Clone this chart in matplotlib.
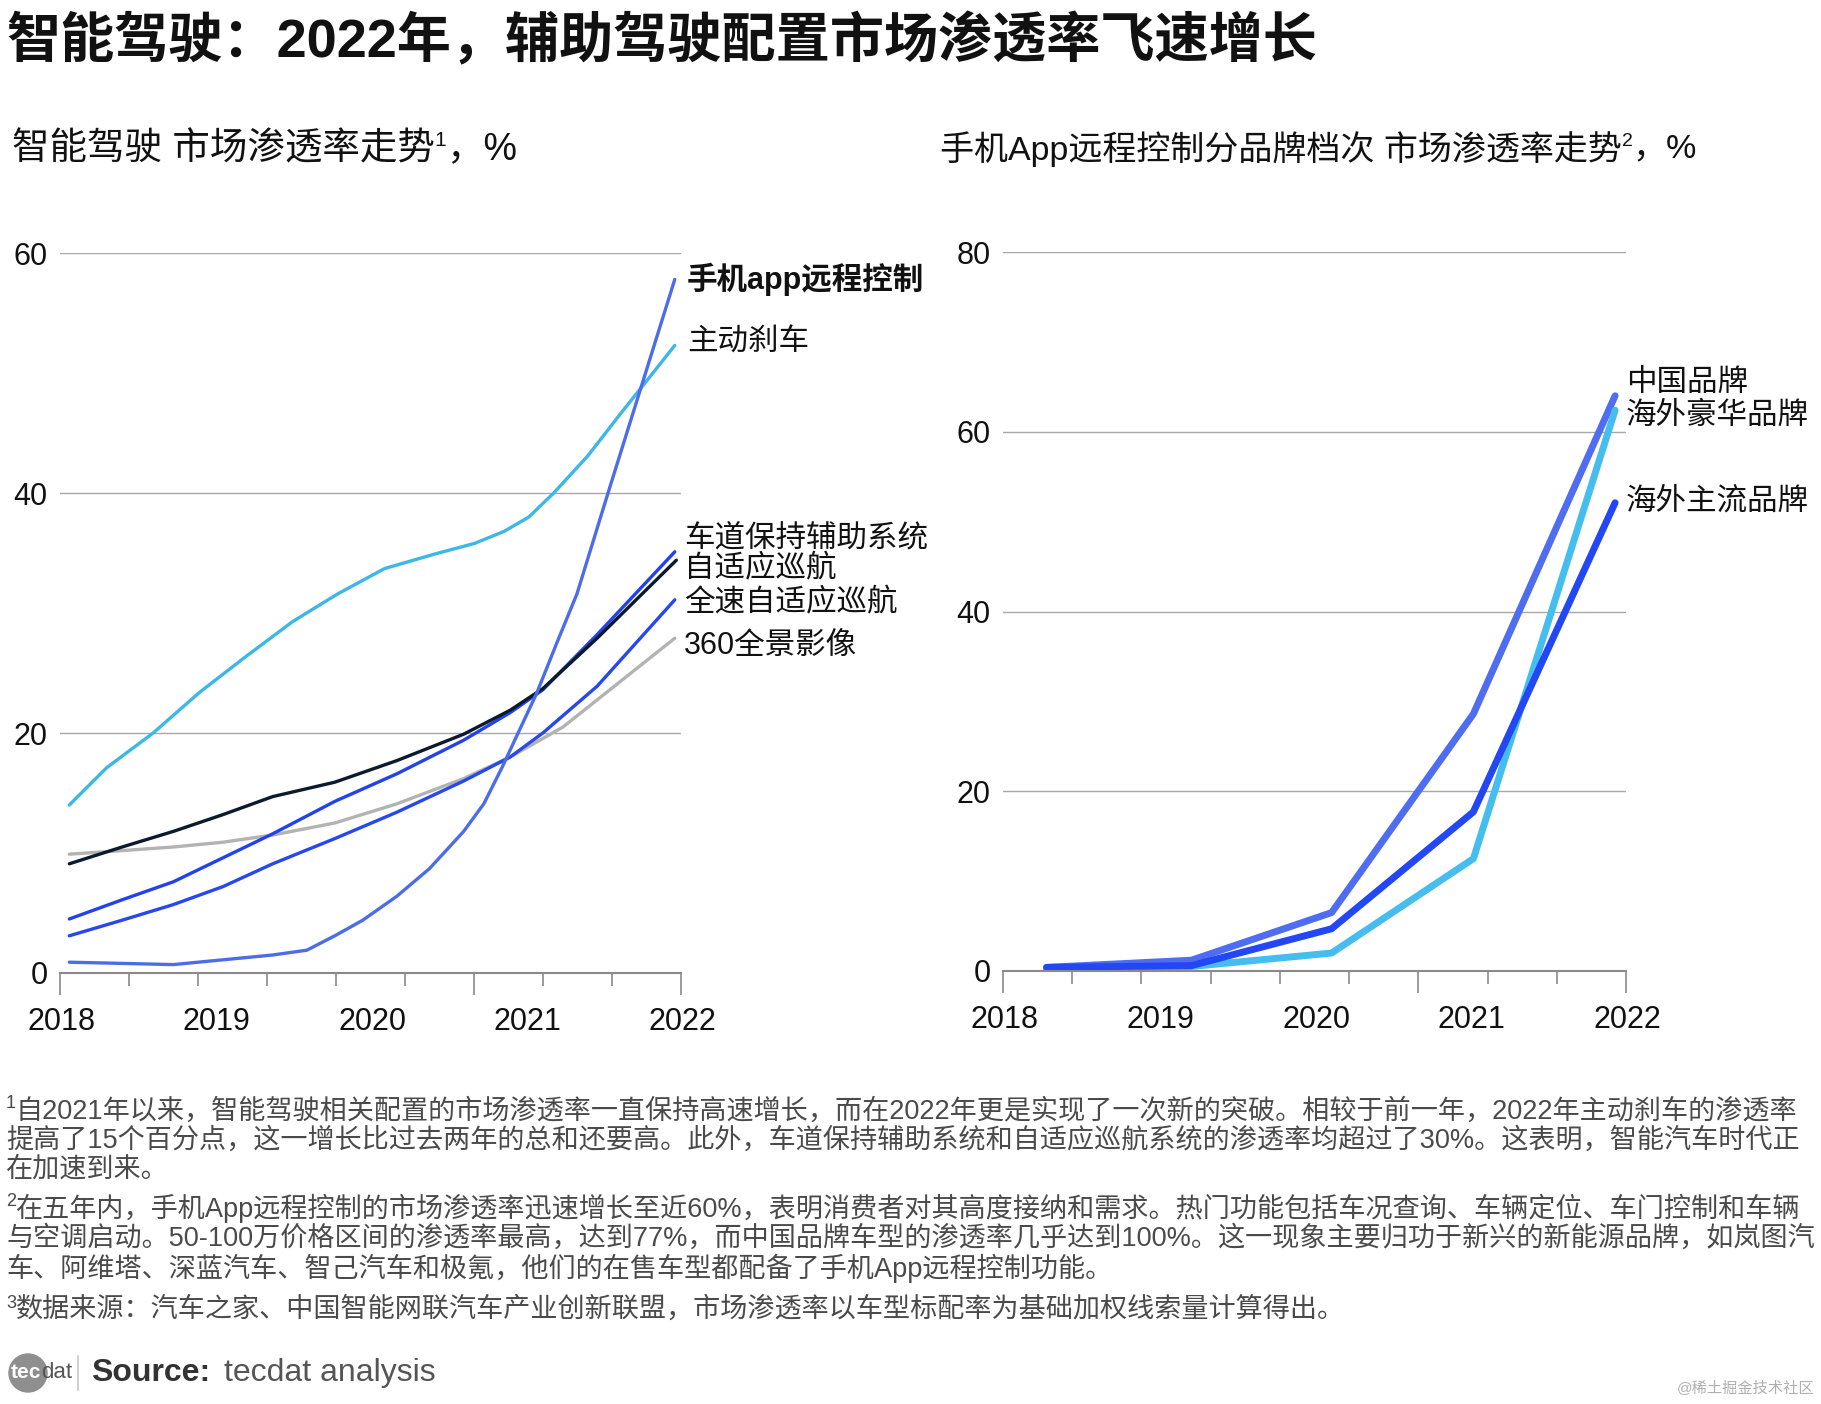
import numpy as np
import matplotlib.pyplot as plt
from matplotlib.patches import Ellipse
from matplotlib.lines import Line2D

plt.rcParams['font.family'] = ['Liberation Sans', 'Noto Sans CJK SC', 'DejaVu Sans']

W, H = 1821, 1404

# ---- left chart data (market penetration, %) ----
years = [2018, 2019, 2020, 2021, 2022]

brake_x = [2018.06, 2018.30, 2018.60, 2018.90, 2019.20, 2019.50, 2019.79, 2020.09, 2020.41, 2020.67,
           2020.86, 2021.02, 2021.18, 2021.40, 2021.61, 2021.77, 2021.96]
brake_y = [14.0, 17.1, 20.0, 23.4, 26.4, 29.3, 31.6, 33.7, 34.9, 35.8, 36.8, 38.0, 40.0, 43.1, 46.6, 49.2, 52.3]

app_x = [2018.06, 2018.40, 2018.73, 2019.05, 2019.37, 2019.59, 2019.77, 2019.95, 2020.17, 2020.38,
         2020.60, 2020.73, 2020.85, 2020.94, 2021.07, 2021.20, 2021.33, 2021.53, 2021.96]
app_y = [0.9, 0.8, 0.7, 1.1, 1.5, 1.9, 3.1, 4.4, 6.4, 8.7, 11.8, 14.1, 17.2, 19.7, 23.3, 27.5, 31.6, 40.0, 57.8]

lane_x = [2018.06, 2018.40, 2018.73, 2019.05, 2019.37, 2019.77, 2020.17, 2020.60, 2020.90, 2021.11,
          2021.46, 2021.96]
lane_y = [4.5, 6.1, 7.6, 9.6, 11.6, 14.3, 16.6, 19.4, 21.7, 23.6, 28.2, 35.1]

acc_x = [2018.06, 2018.40, 2018.73, 2019.05, 2019.37, 2019.77, 2020.17, 2020.60, 2020.90, 2021.11,
         2021.46, 2021.97]
acc_y = [9.1, 10.5, 11.8, 13.2, 14.7, 15.9, 17.7, 19.9, 21.9, 23.7, 27.9, 34.4]

fsacc_x = [2018.06, 2018.40, 2018.73, 2019.05, 2019.37, 2019.77, 2020.17, 2020.60, 2020.90, 2021.11,
           2021.46, 2021.96]
fsacc_y = [3.1, 4.4, 5.7, 7.2, 9.1, 11.2, 13.4, 16.0, 18.0, 20.0, 23.9, 31.1]

view_x = [2018.06, 2018.40, 2018.73, 2019.05, 2019.37, 2019.77, 2020.17, 2020.60, 2020.90, 2021.24,
          2021.96]
view_y = [9.9, 10.2, 10.5, 10.9, 11.5, 12.5, 14.1, 16.2, 18.0, 20.5, 27.9]

# ---- right chart data (app remote control by brand tier, %) ----
brand_x = [2018.28, 2019.21, 2020.11, 2021.02, 2021.93]
china_y = [0.4, 1.2, 6.5, 28.6, 64.0]
lux_y = [0.2, 0.5, 2.0, 12.5, 62.4]
main_y = [0.4, 0.6, 4.7, 17.7, 52.1]

title = '智能驾驶：2022年，辅助驾驶配置市场渗透率飞速增长'
sub_left = ['智能驾驶 市场渗透率走势', '1', '，%']
sub_right = ['手机App远程控制分品牌档次 市场渗透率走势', '2', '，%']

notes = [
    ['1', '自2021年以来，智能驾驶相关配置的市场渗透率一直保持高速增长，而在2022年更是实现了一次新的突破。相较于前一年，2022年主动刹车的渗透率',
     '提高了15个百分点，这一增长比过去两年的总和还要高。此外，车道保持辅助系统和自适应巡航系统的渗透率均超过了30%。这表明，智能汽车时代正',
     '在加速到来。'],
    ['2', '在五年内，手机App远程控制的市场渗透率迅速增长至近60%，表明消费者对其高度接纳和需求。热门功能包括车况查询、车辆定位、车门控制和车辆',
     '与空调启动。50-100万价格区间的渗透率最高，达到77%，而中国品牌车型的渗透率几乎达到100%。这一现象主要归功于新兴的新能源品牌，如岚图汽',
     '车、阿维塔、深蓝汽车、智己汽车和极氪，他们的在售车型都配备了手机App远程控制功能。'],
    ['3', '数据来源：汽车之家、中国智能网联汽车产业创新联盟，市场渗透率以车型标配率为基础加权线索量计算得出。'],
]


def fx(px):
    return px / W


def fy(py):
    return 1 - py / H


def style_axes(ax, ymax, yticks):
    ax.set_xlim(2018, 2022)
    ax.set_ylim(0, ymax)
    for s in ['top', 'right', 'left']:
        ax.spines[s].set_visible(False)
    ax.spines['bottom'].set_color('#8a8a8a')
    ax.spines['bottom'].set_linewidth(1.5)
    ax.set_yticks(yticks)
    ax.set_yticklabels([str(t) for t in yticks], fontsize=22, color='#111111')
    ax.tick_params(axis='y', length=0, pad=9)
    ax.grid(axis='y', color='#a8a8a8', linewidth=1.0)
    ax.set_axisbelow(True)
    pos = np.linspace(2018, 2022, 10)
    ax.set_xticks(pos[[0, 6, 9]])
    ax.set_xticks(pos[[1, 2, 3, 4, 5, 7, 8]], minor=True)
    ax.set_xticklabels([])
    ax.tick_params(axis='x', which='major', length=16, width=1.2, color='#8a8a8a', direction='out')
    ax.tick_params(axis='x', which='minor', length=9, width=1.2, color='#8a8a8a', direction='out')
    for yr in years:
        ax.text(yr + 0.01, -0.068, str(yr), transform=ax.get_xaxis_transform(),
                ha='center', va='center', fontsize=22, color='#111111')


fig = plt.figure(figsize=(W / 100, H / 100), dpi=100)
renderer = fig.canvas.get_renderer()


def runs(x_px, y_px, parts, sizes, rises, **kw):
    # place text pieces one after another (for superscripts)
    x = x_px
    for txt, fs, dy in zip(parts, sizes, rises):
        t = fig.text(fx(x), fy(y_px - dy), txt, fontsize=fs, ha='left', va='center', **kw)
        x += t.get_window_extent(renderer).width
    return x


fig.text(fx(6), fy(41), title, fontsize=39, fontweight='bold', ha='left', va='center', color='#111111')
runs(12, 149, sub_left, [27, 15, 27], [0, 8, 0], color='#111111')
runs(940, 149, sub_right, [24.5, 14, 24.5], [0, 8, 0], color='#111111')

# left chart
ax1 = fig.add_axes([fx(60), fy(973), (681 - 60) / W, (973 - 253) / H])
style_axes(ax1, 60, [0, 20, 40, 60])
kw = dict(solid_capstyle='round', solid_joinstyle='round')
ax1.plot(view_x, view_y, color='#b3b3b3', lw=2.4, **kw)
ax1.plot(fsacc_x, fsacc_y, color='#2848ee', lw=2.4, **kw)
ax1.plot(lane_x, lane_y, color='#2442ec', lw=2.4, **kw)
ax1.plot(acc_x, acc_y, color='#0c1a2c', lw=2.4, **kw)
ax1.plot(brake_x, brake_y, color='#3db7e8', lw=2.4, **kw)
ax1.plot(app_x, app_y, color='#4d6de8', lw=2.4, **kw)

lab_kw = dict(ha='left', va='center', fontsize=22, color='#111111')
fig.text(fx(687), fy(279), '手机app远程控制', fontweight='bold', **lab_kw)
fig.text(fx(687), fy(343), '主动刹车', fontweight='light', **lab_kw)
fig.text(fx(684), fy(538), '车道保持辅助系统', fontweight='light', **lab_kw)
fig.text(fx(684), fy(569), '自适应巡航', fontweight='light', **lab_kw)
fig.text(fx(684), fy(603), '全速自适应巡航', fontweight='light', **lab_kw)
fig.text(fx(684), fy(646), '360全景影像', **lab_kw)

# right chart
ax2 = fig.add_axes([fx(1003), fy(971), (1626 - 1003) / W, (971 - 252) / H])
style_axes(ax2, 80, [0, 20, 40, 60, 80])
ax2.plot(brand_x, china_y, color='#4f6df0', lw=5, **kw)
ax2.plot(brand_x, lux_y, color='#45bdee', lw=5, **kw)
ax2.plot(brand_x, main_y, color='#2447f5', lw=5, **kw)

fig.text(fx(1626), fy(383), '中国品牌', fontweight='light', **lab_kw)
fig.text(fx(1626), fy(416), '海外豪华品牌', fontweight='light', **lab_kw)
fig.text(fx(1626), fy(502), '海外主流品牌', fontweight='light', **lab_kw)

# footnotes
line_y = [[1111, 1140, 1170], [1208, 1238, 1268], [1310]]
for para, ys in zip(notes, line_y):
    sup, lines = para[0], para[1:]
    runs(6, ys[0], [sup, lines[0]], [13, 19.5], [7, 0], color='#4a4a4a')
    for txt, yy in zip(lines[1:], ys[1:]):
        fig.text(fx(6), fy(yy), txt, fontsize=19.5, ha='left', va='center', color='#4a4a4a')

# source / logo
fig.add_artist(Ellipse((fx(28), fy(1373)), 38 / W, 38 / H, color='#8f8f8f'))
fig.text(fx(26), fy(1373), 'tec', fontsize=15, color='white', ha='center', va='center', fontweight='bold')
fig.text(fx(41), fy(1372), 'dat', fontsize=16, color='#555555', ha='left', va='center')
fig.add_artist(Line2D([fx(78), fx(78)], [fy(1356), fy(1390)], color='#c8c8c8', lw=1.2))
fig.text(fx(91), fy(1373), 'Source:', fontsize=23, fontweight='bold', color='#333333', ha='left', va='center')
fig.text(fx(224), fy(1373), 'tecdat analysis', fontsize=23, color='#555555', ha='left', va='center')

fig.text(fx(1814), fy(1388), '@稀土掘金技术社区', fontsize=11, color='#b0b0b0', ha='right', va='center')

fig.savefig('out.png', dpi=100)
